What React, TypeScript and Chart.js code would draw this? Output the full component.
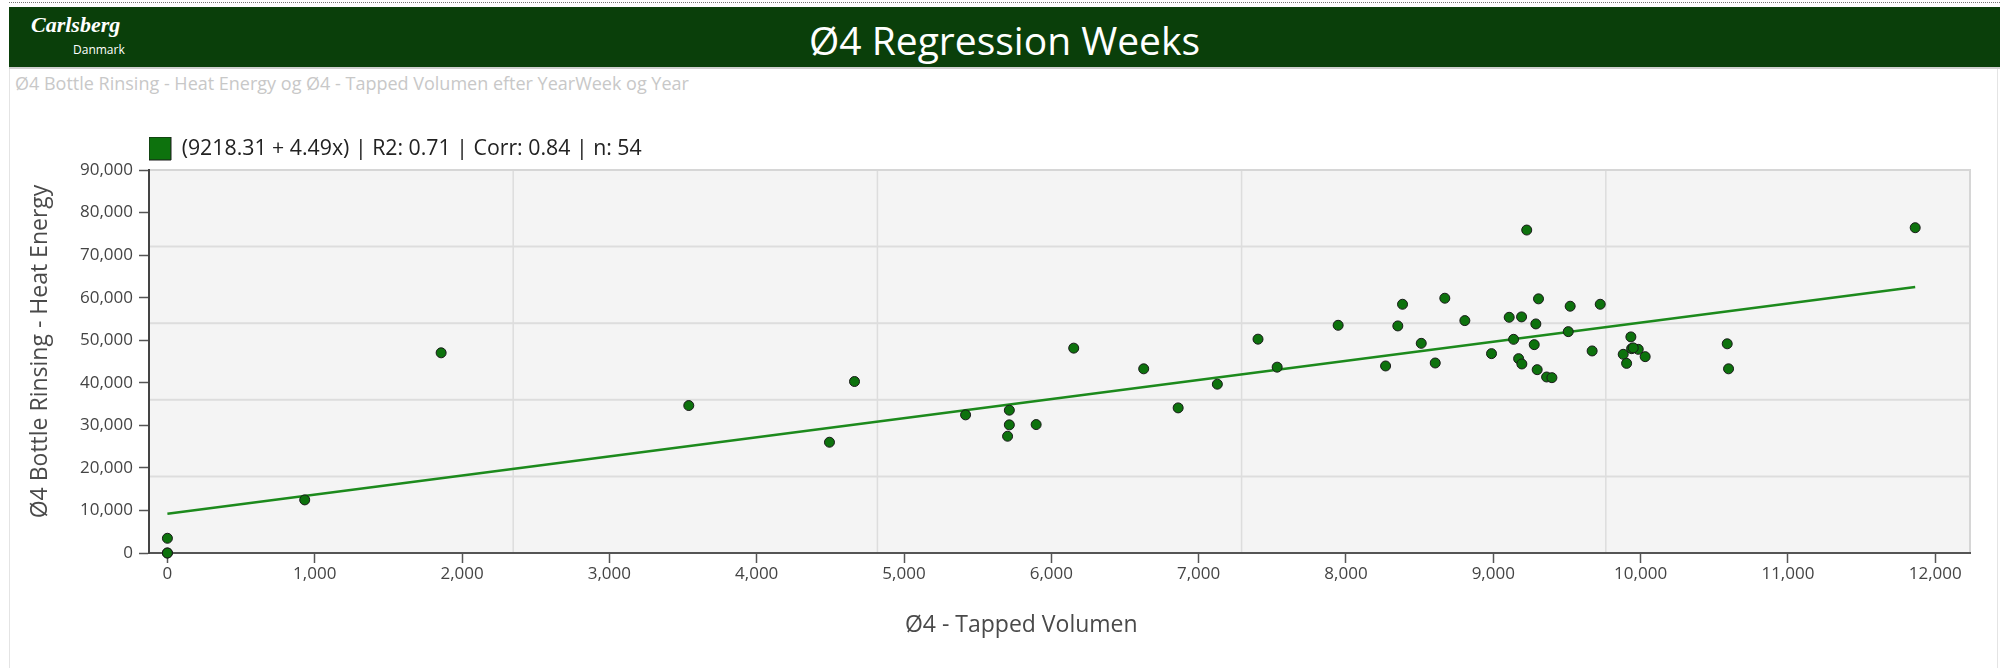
import React, { useEffect, useRef } from "react";
import { Chart, registerables } from "chart.js";

Chart.register(...registerables);

// ---- Data ----
const xValues = [
  0, 0, 0, 932, 1858, 3539, 4494, 4664, 5418, 5715, 5715, 5703, 5897, 6152, 6627, 6861, 7127, 7403, 7533,
  7947, 8269, 8384, 8352, 8511, 8606, 8671, 8807, 8988, 9108, 9192, 9138, 9172, 9194, 9227, 9307, 9289,
  9278, 9298, 9362, 9398, 9509, 9522, 9671, 9726, 9934, 9882, 9905, 9939, 9984, 10031, 10588, 10597, 11864,
  9950,
];
const yValues = [
  0, 0, 3460, 12480, 47040, 34650, 26030, 40300, 32460, 33560, 30110, 27440, 30180, 48140, 43280, 34100, 39670,
  50250, 43670, 53510, 43950, 58450, 53360, 49270, 44650, 59870, 54610, 46850, 55390, 55480, 50210, 45670, 44420,
  75890, 59720, 53830, 48960, 43080, 41360, 41200, 52020, 57990, 47480, 58450, 50780, 46690, 44560, 48020, 47860,
  46140, 49160, 43280, 76440, 48200,
];
const regressionIntercept = 9218.31;
const regressionSlope = 4.49;
const r2Value = 0.71;
const corrValue = 0.84;

const xAxisMin = -125;
const xAxisMax = 12236;
const xTickValues = [0, 1000, 2000, 3000, 4000, 5000, 6000, 7000, 8000, 9000, 10000, 11000, 12000];
const yAxisMin = 0;
const yAxisMax = 90000;
const yTickValues = [0, 10000, 20000, 30000, 40000, 50000, 60000, 70000, 80000, 90000];

const pageTitle = "Ø4 Regression Weeks";
const pageSubtitle = "Ø4 Bottle Rinsing - Heat Energy og Ø4 - Tapped Volumen efter YearWeek og Year";
const xAxisTitle = "Ø4 - Tapped Volumen";
const yAxisTitle = "Ø4 Bottle Rinsing - Heat Energy";

const FONT = "'Open Sans', 'Noto Sans', sans-serif";

const bgGridPlugin = {
  id: "bgGrid",
  beforeDraw(chart: any) {
    const { ctx, chartArea: a } = chart;
    const w = a.right - a.left;
    const h = a.bottom - a.top;
    ctx.save();
    ctx.fillStyle = "#f4f4f4";
    ctx.fillRect(a.left, a.top, w, h);
    ctx.strokeStyle = "#dddddd";
    for (let k = 1; k < 5; k++) {
      const x = a.left + (k * w) / 5;
      ctx.lineWidth = 1.5;
      ctx.beginPath();
      ctx.moveTo(x, a.top);
      ctx.lineTo(x, a.bottom);
      ctx.stroke();
      const y = a.top + (k * h) / 5;
      ctx.lineWidth = 2;
      ctx.beginPath();
      ctx.moveTo(a.left, y);
      ctx.lineTo(a.right, y);
      ctx.stroke();
    }
    ctx.strokeStyle = "#d6d6d6";
    ctx.lineWidth = 2;
    ctx.beginPath();
    ctx.moveTo(a.left, a.top);
    ctx.lineTo(a.right, a.top);
    ctx.lineTo(a.right, a.bottom);
    ctx.stroke();
    ctx.restore();
  },
};

const axisTitlePlugin = {
  id: "axisTitles",
  afterDraw(chart: any) {
    const { ctx, chartArea: a } = chart;
    ctx.save();
    ctx.fillStyle = "#4a4a4a";
    ctx.font = `23px ${FONT}`;
    ctx.textAlign = "center";
    ctx.textBaseline = "middle";
    ctx.fillText(xAxisTitle, a.left + (a.right - a.left) * 0.479, a.bottom + 72);
    ctx.font = `23px ${FONT}`;
    ctx.translate(40, (a.top + a.bottom) / 2 - 10);
    ctx.rotate(-Math.PI / 2);
    ctx.fillText(yAxisTitle, 0, 0);
    ctx.restore();
  },
};

function RegressionChart() {
  const ref = useRef<HTMLCanvasElement | null>(null);
  useEffect(() => {
    if (!ref.current) return;
    const points = xValues.map((x, i) => ({ x, y: yValues[i] }));
    const maxX = Math.max(...xValues);
    const minX = Math.min(...xValues);
    const linePts = [
      { x: minX, y: regressionIntercept + regressionSlope * minX },
      { x: maxX, y: regressionIntercept + regressionSlope * maxX },
    ];
    const label = `(${regressionIntercept} + ${regressionSlope}x) | R2: ${r2Value} | Corr: ${corrValue} | n: ${xValues.length}`;
    const chart = new Chart(ref.current, {
      type: "scatter",
      data: {
        datasets: [
          {
            label,
            data: points,
            backgroundColor: "#0d720d",
            borderColor: "#1a1a1a",
            borderWidth: 1,
            pointRadius: 5,
            clip: false,
            order: 0,
          } as any,
          {
            type: "line",
            label: "regression",
            data: linePts,
            borderColor: "#1c8a1c",
            borderWidth: 2.5,
            pointRadius: 0,
            showLine: true,
            fill: false,
            order: 1,
          } as any,
        ],
      },
      options: {
        animation: false,
        responsive: false,
        devicePixelRatio: 1,
        layout: { padding: { top: 37, right: 30, bottom: 0, left: 0 } },
        plugins: {
          legend: {
            display: true,
            position: "top",
            align: "start",
            fullSize: false,
            labels: {
              boxWidth: 22,
              boxHeight: 23,
              padding: 0,
              color: "#222",
              font: { family: FONT, size: 21.3 },
              filter: (item: any) => item.datasetIndex === 0,
            },
          },
          tooltip: { enabled: false },
        },
        scales: {
          x: {
            type: "linear",
            min: xAxisMin,
            max: xAxisMax,
            afterBuildTicks: (s: any) => {
              s.ticks = xTickValues.map((v) => ({ value: v }));
            },
            afterFit: (s: any) => {
              s.height = 115;
            },
            ticks: {
              color: "#444",
              font: { family: FONT, size: 17 },
              padding: 1,
              maxRotation: 0,
              autoSkip: false,
            },
            grid: {
              display: true,
              drawOnChartArea: false,
              drawTicks: true,
              tickLength: 10,
              tickColor: "#555",
              tickWidth: 1.5,
            },
            border: { display: true, color: "#555", width: 2 },
          },
          y: {
            type: "linear",
            min: yAxisMin,
            max: yAxisMax,
            afterBuildTicks: (s: any) => {
              s.ticks = yTickValues.map((v) => ({ value: v }));
            },
            afterFit: (s: any) => {
              s.width = 149;
            },
            ticks: {
              color: "#444",
              font: { family: FONT, size: 17 },
              padding: 6,
              autoSkip: false,
            },
            grid: {
              display: true,
              drawOnChartArea: false,
              drawTicks: true,
              tickLength: 10,
              tickColor: "#555",
              tickWidth: 1.5,
            },
            border: { display: true, color: "#444", width: 2 },
          },
        },
      } as any,
      plugins: [bgGridPlugin, axisTitlePlugin],
    });
    return () => chart.destroy();
  }, []);
  return <canvas ref={ref} width={2000} height={568} style={{ position: "absolute", left: 0, top: 100, width: 2000, height: 568 }} />;
}

export default function App() {
  return (
    <div style={{ position: "absolute", left: 0, top: 0, width: 2000, height: 668, background: "#fff", overflow: "hidden", fontFamily: FONT }}>
      <div style={{ position: "absolute", left: 9, right: 0, top: 2, borderTop: "1px dotted #777" }} />
      <div style={{ position: "absolute", left: 9, right: 0, top: 7, height: 60, background: "#0a3f0a", borderBottom: "2px solid #d0d0d0" }} />
      <div style={{ position: "absolute", left: 9, top: 69, bottom: 0, borderLeft: "1px solid #e4e4e4" }} />
      <div style={{ position: "absolute", left: 1997, top: 69, bottom: 0, borderLeft: "1px solid #e4e4e4" }} />
      <div style={{ position: "absolute", left: 31, top: 12, color: "#fff", fontFamily: "'Liberation Serif', serif", fontStyle: "italic", fontWeight: "bold", fontSize: 22, lineHeight: "26px" }}>Carlsberg</div>
      <div style={{ position: "absolute", left: 73, top: 43, color: "#fff", fontFamily: FONT, fontSize: 12, lineHeight: "14px" }}>Danmark</div>
      <div style={{ position: "absolute", left: 9, right: 0, top: 14, height: 52, color: "#fff", textAlign: "center", fontSize: 39, lineHeight: "52px" }}>{pageTitle}</div>
      <div style={{ position: "absolute", left: 15, top: 71, color: "#c8c8c8", fontSize: 18, lineHeight: "24px", whiteSpace: "nowrap" }}>{pageSubtitle}</div>
      <RegressionChart />
    </div>
  );
}
